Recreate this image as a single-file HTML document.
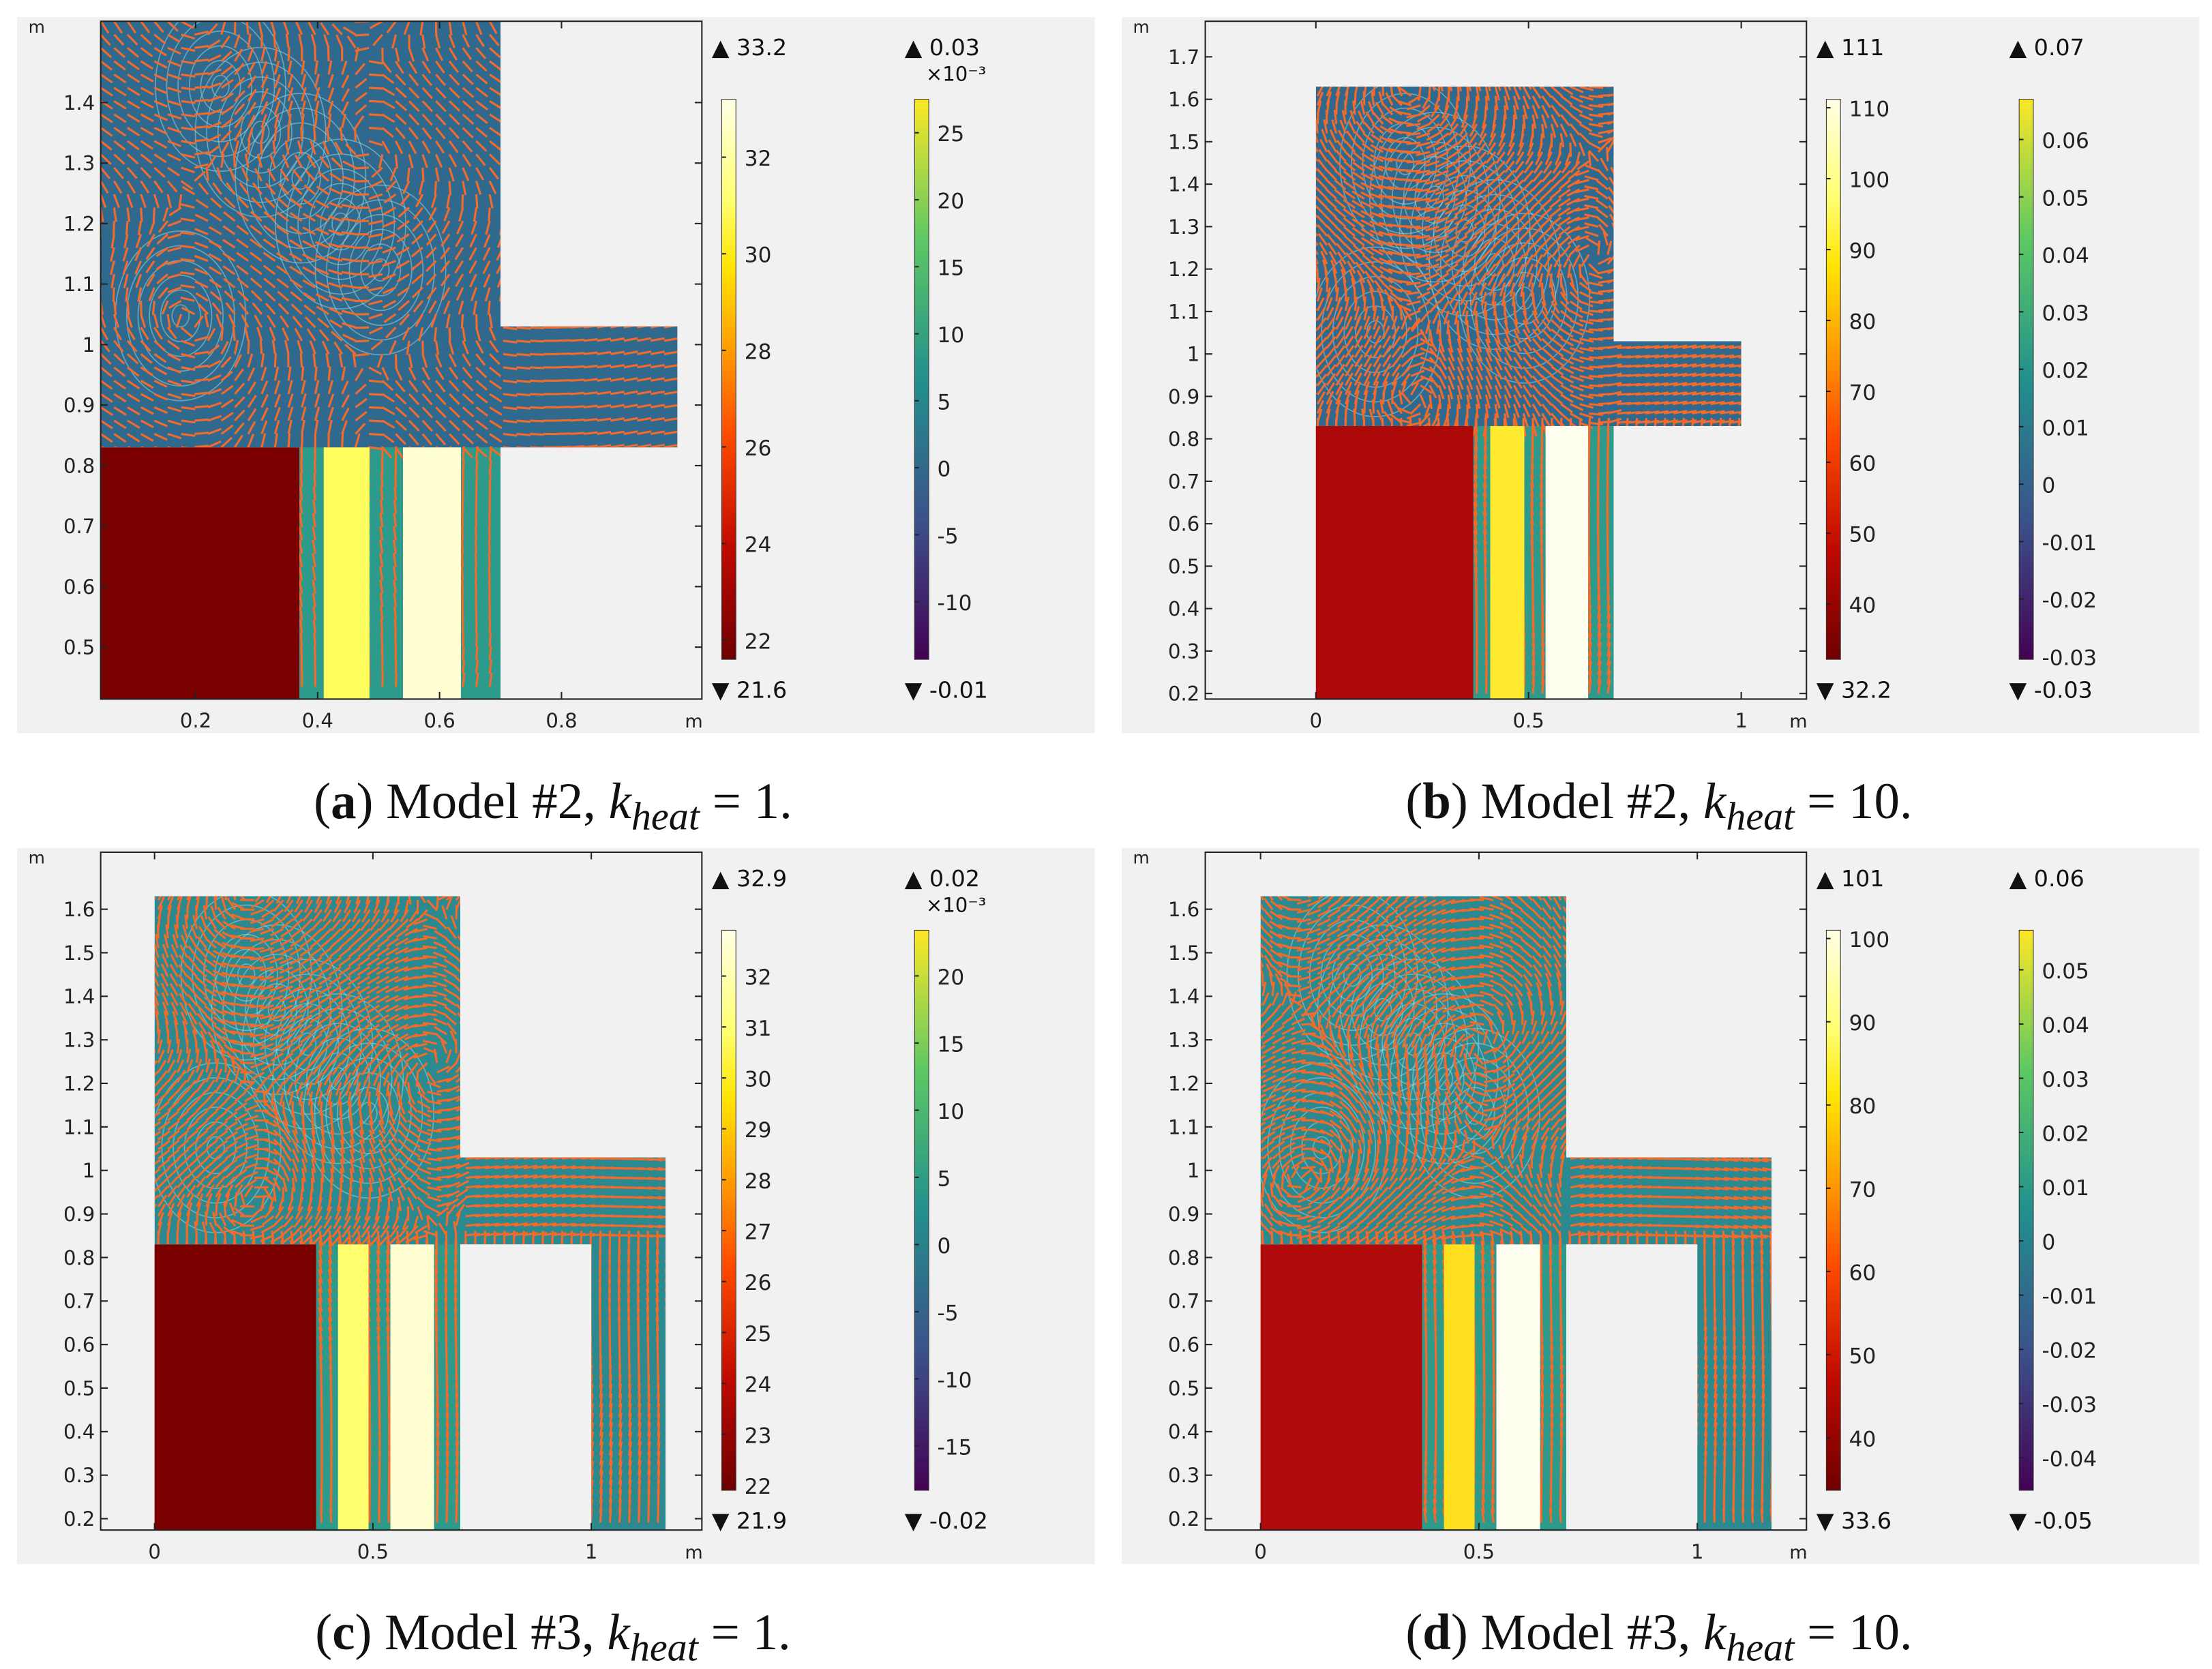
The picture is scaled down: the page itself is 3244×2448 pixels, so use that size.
<!DOCTYPE html>
<html><head><meta charset="utf-8"><style>
html,body{margin:0;padding:0;background:#fff;}
svg{display:block;}
text{font-family:"DejaVu Sans","Liberation Sans",sans-serif;}
.cap{font-family:"Liberation Serif",serif;font-size:36px;}
</style></head><body>
<svg id="root" width="3244" height="2448" viewBox="0 0 1560 1177" preserveAspectRatio="none" xmlns="http://www.w3.org/2000/svg">
<defs>
<linearGradient id="hot" x1="0" y1="1" x2="0" y2="0">
<stop offset="0" stop-color="#6e0000"/><stop offset="0.2" stop-color="#c00a00"/><stop offset="0.4" stop-color="#ff4a00"/><stop offset="0.55" stop-color="#ff9a00"/><stop offset="0.7" stop-color="#ffe400"/><stop offset="0.82" stop-color="#ffff70"/><stop offset="1" stop-color="#ffffe6"/>
</linearGradient>
<linearGradient id="vir" x1="0" y1="1" x2="0" y2="0">
<stop offset="0" stop-color="#440154"/><stop offset="0.25" stop-color="#3b528b"/><stop offset="0.5" stop-color="#21908d"/><stop offset="0.75" stop-color="#5dc863"/><stop offset="1" stop-color="#fde725"/>
</linearGradient>
</defs>
</svg>
<script>
const NS="http://www.w3.org/2000/svg";
const root=document.getElementById('root');
function mk(tag,attrs,parent){const e=document.createElementNS(NS,tag);for(const k in attrs)e.setAttribute(k,attrs[k]);(parent||root).appendChild(e);return e;}

// ---- data arrays ----
const panelIds=['a','b','c','d'];
const xTicksA=[0.2,0.4,0.6,0.8];
const yTicksA=[0.5,0.6,0.7,0.8,0.9,1,1.1,1.2,1.3,1.4];
const xTicksB=[0,0.5,1];
const yTicksB=[0.2,0.3,0.4,0.5,0.6,0.7,0.8,0.9,1,1.1,1.2,1.3,1.4,1.5,1.6,1.7];
const xTicksC=[0,0.5,1];
const yTicksC=[0.2,0.3,0.4,0.5,0.6,0.7,0.8,0.9,1,1.1,1.2,1.3,1.4,1.5,1.6];
const tempRange=[[21.6,33.2],[32.2,111.2],[21.9,32.9],[33.7,101]];
const tempMaxLabel=['33.2','111','32.9','101'];
const tempMinLabel=['21.6','32.2','21.9','33.6'];
const tempTicks=[[22,24,26,28,30,32],[40,50,60,70,80,90,100,110],[22,23,24,25,26,27,28,29,30,31,32],[40,50,60,70,80,90,100]];
const velRange=[[-14.3,27.5],[-0.0305,0.067],[-18.3,23.4],[-0.046,0.0573]];
const velMaxLabel=['0.03','0.07','0.02','0.06'];
const velMinLabel=['-0.01','-0.03','-0.02','-0.05'];
const velTicks=[[-10,-5,0,5,10,15,20,25],[-0.03,-0.02,-0.01,0,0.01,0.02,0.03,0.04,0.05,0.06],[-15,-10,-5,0,5,10,15,20],[-0.04,-0.03,-0.02,-0.01,0,0.01,0.02,0.03,0.04,0.05]];
const captionModel=['#2','#2','#3','#3'];
const captionK=['1','10','1','10'];

const P=[
 {ox:0,oy:0,kx:430,x0:52,ky:426.7,y0:669.7,xt:xTicksA,yt:yTicksA,xmin:0.044,ymin:0.414,top:1.6,duct:0.99,rch:false,red:'#7a0000',yel:'#ffff60',wht:'#ffffd2',bg:'#2f6a8e',ch:[0.41,0.485,0.54,0.635]},
 {ox:779,oy:0,kx:300,x0:928,ky:299.3,y0:548.9,xt:xTicksB,yt:yTicksB,xmin:0,ymin:0.187,top:1.63,duct:1.0,rch:false,red:'#ad0808',yel:'#ffea30',wht:'#fffff0',bg:'#2f6a8e',ch:[0.41,0.49,0.54,0.64]},
 {ox:0,oy:586,kx:308,x0:109,ky:307,y0:1132.4,xt:xTicksC,yt:yTicksC,xmin:0,ymin:0.174,top:1.63,duct:1.17,rch:true,red:'#7a0000',yel:'#ffff70',wht:'#ffffd2',bg:'#2a8a90',ch:[0.42,0.49,0.54,0.64]},
 {ox:779,oy:586,kx:308,x0:889,ky:307,y0:1132.4,xt:xTicksC,yt:yTicksC,xmin:0,ymin:0.174,top:1.63,duct:1.17,rch:true,red:'#b00a0a',yel:'#ffe020',wht:'#fffff0',bg:'#2a8a90',ch:[0.42,0.49,0.54,0.64]}
];

P.forEach((p,i)=>{
 const g=mk('g',{});
 
 
 const bgx=12+p.ox, bgy=12+p.oy;
 const bg=mk('rect',{x:bgx,y:bgy,width:760,height:505,fill:'#f1f1f1'},g);
 
 
 const fx1=71+p.ox, fx2=495+p.ox, fy1=15+p.oy, fy2=493+p.oy;
 const sx=v=>p.x0+v*p.kx, sy=v=>p.y0-v*p.ky;
 const plot=mk('g',{},g);
 
 
 mk('rect',{x:fx1,y:fy1,width:fx2-fx1,height:fy2-fy1,fill:'#f1f1f1'},plot);
 const clipId='clip'+i;
 const cp=mk('clipPath',{id:clipId},plot);
 const addR=(x1,y1,x2,y2,par,fill)=>mk('rect',{x:sx(x1),y:Math.max(fy1,sy(y2)),width:sx(x2)-sx(x1),height:Math.min(fy2,sy(y1))-Math.max(fy1,sy(y2)),fill:fill||'#000'},par);
 addR(p.xmin,0.83,0.7,p.top,cp);
 addR(0.7,0.83,p.duct,1.03,cp);
 addR(0.37,p.ymin,0.7,0.83,cp);
 if(p.rch) addR(1.0,p.ymin,p.duct,1.03,cp);
 const dom=mk('g',{'clip-path':'url(#'+clipId+')'},plot);
 
 
 mk('rect',{x:fx1,y:fy1,width:fx2-fx1,height:fy2-fy1,fill:p.bg},dom);
 mk('rect',{x:sx(0.37),y:sy(0.83),width:sx(0.7)-sx(0.37),height:fy2-sy(0.83),fill:'#2d9b8c'},dom);
 // streamline vortices (light cyan)
 for(let k=0;k<6;k++){
   const cx=sx(p.xmin+(0.7-p.xmin)*(0.2+0.6*((k*37)%6)/6)), cy=sy(0.95+(p.top-0.95)*(0.15+0.7*((k*53)%6)/6));
   for(let r=6;r<50;r+=8){
     mk('ellipse',{cx:cx,cy:cy,rx:r,ry:r*1.3,fill:'none',stroke:'#9fd3d8','stroke-width':0.8,opacity:0.55},dom);
   }
 }
 // orange arrows
 const dx=p.kx*0.022, dy=p.ky*0.022;
 for(let X=fx1;X<fx2;X+=dx){for(let Y=fy1;Y<fy2;Y+=dy){
   let u=Math.sin((Y-fy1)/35+i)*0.8+0.6*Math.cos((X-fx1)/50), v=Math.cos((X-fx1)/40+i)*0.9;
   if(Y>sy(1.03)&&Y<sy(0.83)&&X>sx(0.7)){u=1.5;v*=0.3;}
   if(Y>sy(0.83)){u*=0.2;v=-1.5;}
   const len=10, n=Math.hypot(u,v)||1;
   mk('line',{x1:X,y1:Y,x2:X+len*u/n,y2:Y+len*v/n,stroke:'#f5692a','stroke-width':1.5},dom);
 }}
 const red=mk('rect',{x:sx(p.xmin),y:sy(0.83),width:sx(0.37)-sx(p.xmin),height:fy2-sy(0.83),fill:p.red},plot);
 
 
 const y1=mk('rect',{x:sx(p.ch[0]),y:sy(0.83),width:sx(p.ch[1])-sx(p.ch[0]),height:fy2-sy(0.83),fill:p.yel},plot);
 
 
 const w1=mk('rect',{x:sx(p.ch[2]),y:sy(0.83),width:sx(p.ch[3])-sx(p.ch[2]),height:fy2-sy(0.83),fill:p.wht},plot);
 
 
 if(p.rch){ mk('rect',{x:sx(0.7),y:sy(0.83),width:sx(1.0)-sx(0.7),height:fy2-sy(0.83),fill:'#f1f1f1'},plot); }
 const fr=mk('rect',{x:fx1,y:fy1,width:fx2-fx1,height:fy2-fy1,fill:'none',stroke:'#222','stroke-width':1},g);
 
 
 p.xt.forEach(t=>{
   const x=sx(t);
   mk('line',{x1:x,y1:fy2,x2:x,y2:fy2-5,stroke:'#222'},g);
   mk('line',{x1:x,y1:fy1,x2:x,y2:fy1+5,stroke:'#222'},g);
   const tx=mk('text',{x:x,y:fy2+20,'font-size':14,'text-anchor':'middle',fill:'#222'},g);
   tx.textContent=String(t);
   
   
 });
 p.yt.forEach(t=>{
   const y=sy(t);
   mk('line',{x1:fx1,y1:y,x2:fx1+5,y2:y,stroke:'#222'},g);
   mk('line',{x1:fx2,y1:y,x2:fx2-5,y2:y,stroke:'#222'},g);
   const tx=mk('text',{x:fx1-4,y:y+5,'font-size':14,'text-anchor':'end',fill:'#222'},g);
   tx.textContent=String(t);
   
   
 });
 const mu=mk('text',{x:bgx+8,y:bgy+11,'font-size':12,fill:'#222'},g); mu.textContent='m';
 
 
 const mx=mk('text',{x:fx2-12,y:fy2+20,'font-size':13,fill:'#222'},g); mx.textContent='m';
 
 
 const bars=[{x:509+p.ox,grad:'hot',rng:tempRange[i],ticks:tempTicks[i],mx:tempMaxLabel[i],mn:tempMinLabel[i],name:'temperature-colorbar'},
             {x:645+p.ox,grad:'vir',rng:velRange[i],ticks:velTicks[i],mx:velMaxLabel[i],mn:velMinLabel[i],name:'velocity-colorbar'}];
 bars.forEach((b,bi)=>{
   const top=70+p.oy, bt=465+p.oy;
   const cb=mk('g',{},g);
   
   
   mk('rect',{x:b.x,y:top,width:10,height:bt-top,fill:'url(#'+b.grad+')',stroke:'#333','stroke-width':0.5},cb);
   const by=v=>bt-(v-b.rng[0])/(b.rng[1]-b.rng[0])*(bt-top);
   b.ticks.forEach(t=>{
     const y=by(t);
     mk('line',{x1:b.x,y1:y,x2:b.x+3,y2:y,stroke:'#222'},cb);
     const tx=mk('text',{x:b.x+16,y:y+6,'font-size':15,fill:'#222'},cb);
     tx.textContent=String(t);
     
     
   });
   const up=mk('text',{x:b.x-7,y:39+p.oy,'font-size':16,fill:'#111'},cb); up.textContent='▲ '+b.mx;
   
   
   const dn=mk('text',{x:b.x-7,y:492+p.oy,'font-size':16,fill:'#111'},cb); dn.textContent='▼ '+b.mn;
   
   
   if(bi===1&&(i===0||i===2)){
     const ex=mk('text',{x:b.x+8,y:57+p.oy,'font-size':14,fill:'#111'},cb); ex.textContent='×10⁻³';
     
     
   }
 });
 const cap=mk('text',{x:(i%2?1170:390),y:(i<2?577:1163),'text-anchor':'middle',class:'cap',fill:'#111'},root);
 
 
 cap.innerHTML='(<tspan font-weight="bold">'+panelIds[i]+'</tspan>) Model '+captionModel[i]+', <tspan font-style="italic">k</tspan><tspan font-style="italic" font-size="28" dy="8">heat</tspan><tspan dy="-8"> = '+captionK[i]+'.</tspan>';
});
</script>
</body></html>
